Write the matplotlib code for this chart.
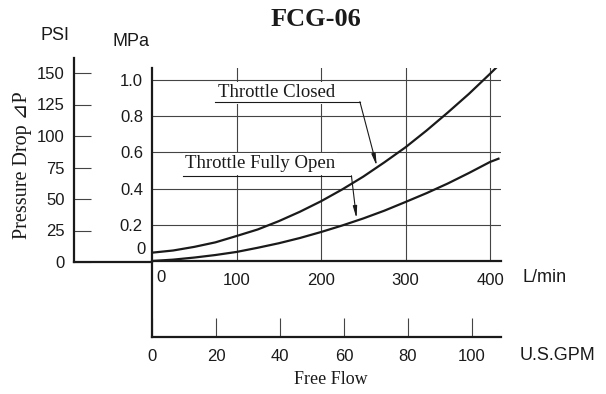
import matplotlib.pyplot as plt

# flow readings, L/min
flow_lpm = [0, 25, 50, 75, 100, 125, 150, 175, 200, 225, 250, 275, 300,
            325, 350, 375, 400, 410]
# pressure drop, MPa
closed_mpa = [0.046, 0.058, 0.078, 0.103, 0.138, 0.174, 0.22, 0.272, 0.33, 0.395,
              0.466, 0.545, 0.628, 0.721, 0.82, 0.923, 1.034, 1.08]
open_mpa = [0.0, 0.0075, 0.019, 0.033, 0.05, 0.073, 0.098, 0.127, 0.16, 0.196,
            0.235, 0.278, 0.326, 0.375, 0.428, 0.486, 0.547, 0.565]

lpm_ticks = [100, 200, 300, 400]
mpa_ticks = [0.2, 0.4, 0.6, 0.8, 1.0]
psi_ticks = [0, 25, 50, 75, 100, 125, 150]
gpm_ticks = [0, 20, 40, 60, 80, 100]

W, H = 606, 394
SANS = 'Liberation Sans'
SERIF = ['Liberation Serif', 'DejaVu Serif', 'DejaVu Sans']
INK = '#1a1a1a'
GRID = '#444444'


def box(left, right, top, bottom):
    # pixel box -> figure fraction
    return [left / W, 1 - bottom / H, (right - left) / W, (bottom - top) / H]


fig = plt.figure(figsize=(W / 100, H / 100), dpi=100)

# main chart, L/min vs MPa
ax = fig.add_axes(box(152, 501, 68, 261))
ax.set_xlim(0, 413)
ax.set_ylim(0, 1.066)
for s in ['top', 'right']:
    ax.spines[s].set_visible(False)
for s in ['left', 'bottom']:
    ax.spines[s].set_linewidth(1.6)
    ax.spines[s].set_color(INK)
for v in lpm_ticks:
    ax.axvline(v, color=GRID, lw=0.8, zorder=1)
for v in mpa_ticks:
    ax.axhline(v, color=GRID, lw=0.8, zorder=1)
ax.set_xticks(lpm_ticks)
ax.set_xticklabels([str(v) for v in lpm_ticks], fontfamily=SANS, fontsize=12)
ax.set_yticks(mpa_ticks)
ax.set_yticklabels(['%.1f' % v for v in mpa_ticks], fontfamily=SANS, fontsize=12)
ax.tick_params(axis='x', length=0, pad=8.5, colors=INK)
ax.tick_params(axis='y', length=0, pad=6.5, colors=INK)
ax.text(5, -0.092, '0', fontfamily=SANS, fontsize=12, color=INK, ha='left', va='center')
ax.text(-6.5 / 0.845, 0.066, '0', fontfamily=SANS, fontsize=12, color=INK, ha='right', va='center')

ax.plot(flow_lpm, closed_mpa, color=INK, lw=1.6, zorder=3)
ax.plot(flow_lpm, open_mpa, color=INK, lw=1.6, zorder=3)

ax.text(78, 0.928, 'Throttle Closed', fontfamily=SERIF, fontsize=13.5, color=INK,
        ha='left', va='center', zorder=4,
        bbox=dict(facecolor='white', edgecolor='none', pad=1.5))
ax.plot([74.6, 246], [0.880, 0.880], color=INK, lw=0.8, zorder=4)
ax.annotate('', xy=(266, 0.525), xytext=(246, 0.880), zorder=4,
            arrowprops=dict(arrowstyle='-|>,head_width=0.12,head_length=0.7',
                            color=INK, lw=0.8, shrinkA=0, shrinkB=0))

ax.text(39, 0.536, 'Throttle Fully Open', fontfamily=SERIF, fontsize=13.5, color=INK,
        ha='left', va='center', zorder=4,
        bbox=dict(facecolor='white', edgecolor='none', pad=1.5))
ax.plot([36.7, 236], [0.471, 0.471], color=INK, lw=0.8, zorder=4)
ax.annotate('', xy=(242, 0.235), xytext=(236, 0.471), zorder=4,
            arrowprops=dict(arrowstyle='-|>,head_width=0.12,head_length=0.7',
                            color=INK, lw=0.8, shrinkA=0, shrinkB=0))

# PSI scale on the far left
ax_psi = fig.add_axes(box(74, 152, 58, 262))
ax_psi.set_ylim(0, 204 / 1.26)
ax_psi.set_xlim(0, 1)
ax_psi.patch.set_visible(False)
for s in ['top', 'right']:
    ax_psi.spines[s].set_visible(False)
for s in ['left', 'bottom']:
    ax_psi.spines[s].set_linewidth(1.6)
    ax_psi.spines[s].set_color(INK)
ax_psi.set_xticks([])
ax_psi.set_yticks(psi_ticks)
ax_psi.set_yticklabels([str(v) for v in psi_ticks], fontfamily=SANS, fontsize=12)
ax_psi.tick_params(axis='y', direction='in', length=12.2, width=0.8,
                   color=GRID, labelcolor=INK, pad=6.5)

# U.S.GPM scale underneath
ax_gpm = fig.add_axes(box(152, 501, 262, 337))
ax_gpm.set_xlim(0, 413 / 3.785)
ax_gpm.set_ylim(0, 1)
ax_gpm.patch.set_visible(False)
for s in ['top', 'right']:
    ax_gpm.spines[s].set_visible(False)
for s in ['left', 'bottom']:
    ax_gpm.spines[s].set_linewidth(1.6)
    ax_gpm.spines[s].set_color(INK)
ax_gpm.set_yticks([])
ax_gpm.set_xticks(gpm_ticks)
ax_gpm.set_xticklabels([str(v) for v in gpm_ticks], fontfamily=SANS, fontsize=12)
ax_gpm.tick_params(axis='x', direction='in', length=13.7, width=0.8,
                   color=GRID, labelcolor=INK, pad=8.5)

# titles and unit labels
def ftext(x, y, s, **kw):
    fig.text(x / W, 1 - y / H, s, color=INK, **kw)

ftext(316, 19, 'FCG-06', fontfamily=SERIF, fontsize=19, fontweight='bold', ha='center', va='center')
ftext(55, 35, 'PSI', fontfamily=SANS, fontsize=13, ha='center', va='center')
ftext(131, 42, 'MPa', fontfamily=SANS, fontsize=13, ha='center', va='center')
ftext(522, 278, 'L/min', fontfamily=SANS, fontsize=13, ha='left', va='center')
ftext(520, 355, 'U.S.GPM', fontfamily=SANS, fontsize=13, ha='left', va='center')
ftext(331, 379, 'Free Flow', fontfamily=SERIF, fontsize=13, ha='center', va='center')
ftext(23, 165, 'Pressure Drop \u22bfP', fontfamily=SERIF, fontsize=14.5, rotation=90,
      ha='center', va='center')

fig.savefig('out.png', dpi=100)
